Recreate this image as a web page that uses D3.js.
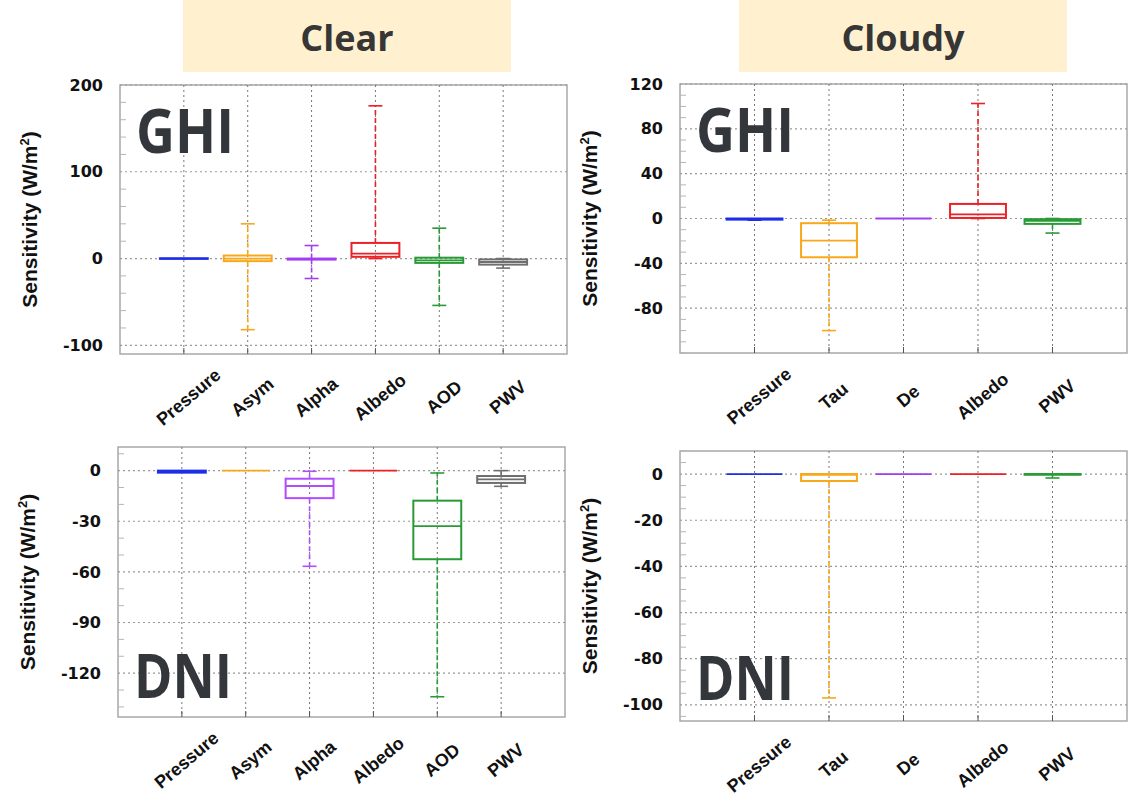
<!DOCTYPE html>
<html>
<head>
<meta charset="utf-8">
<script src="https://cdn.jsdelivr.net/npm/d3@7"></script>
<style>
  body { margin: 0; background: #fff; }
  svg { display: block; }
</style>
</head>
<body>
<svg id="chart" width="1134" height="796"></svg>
<script>
// categories
const clearVars = ['Pressure', 'Asym', 'Alpha', 'Albedo', 'AOD', 'PWV']
const cloudyVars = ['Pressure', 'Tau', 'De', 'Albedo', 'PWV']

// clear sky, GHI
const clearGhiLow = [0, -82, -23, 0, -54, -11]
const clearGhiQ1 = [-0.3, -3, -1.2, 2, -5, -7]
const clearGhiMed = [0, 0, -0.5, 5.7, -2, -4]
const clearGhiQ3 = [0.3, 3.5, 0, 18, 1, -1]
const clearGhiHigh = [0.3, 40, 15, 176, 35, 0]

// cloudy sky, GHI
const cloudyGhiLow = [-1.5, -100, 0, 0, -13]
const cloudyGhiQ1 = [-1, -34.6, 0, 0.5, -4.8]
const cloudyGhiMed = [-0.5, -19.7, 0, 3.6, -2]
const cloudyGhiQ3 = [0, -4.2, 0, 13, -0.6]
const cloudyGhiHigh = [0, -1.5, 0, 102.6, 0]

// clear sky, DNI
const clearDniLow = [-1, 0, -56.7, 0, -134, -9.3]
const clearDniQ1 = [-1.2, 0, -16.3, 0, -52.5, -7.3]
const clearDniMed = [-0.5, 0, -9.1, 0, -32.9, -5.2]
const clearDniQ3 = [0, 0, -4.8, 0, -17.8, -3.2]
const clearDniHigh = [0, 0, -0.4, 0, -1.4, 0]

// cloudy sky, DNI
const cloudyDniLow = [0, -97, 0, 0, -1.7]
const cloudyDniQ1 = [0, -3, 0, 0, -0.3]
const cloudyDniMed = [0, -0.3, 0, 0, 0]
const cloudyDniQ3 = [0, 0, 0, 0, 0]
const cloudyDniHigh = [0, 0, 0, 0, 0]

// y tick labels
const clearGhiTicks = [-100, 0, 100, 200]
const cloudyGhiTicks = [-80, -40, 0, 40, 80, 120]
const clearDniTicks = [-120, -90, -60, -30, 0]
const cloudyDniTicks = [-100, -80, -60, -40, -20, 0]

const headers = ['Clear', 'Cloudy']
const yLabel = 'Sensitivity (W/m'

// styles
const clearColors = ['#1f2ee6', '#f7a81b', '#a23df2', '#ec2027', '#2a9a37', '#6f6f6f']
const cloudyColors = ['#1f2ee6', '#f7a81b', '#a23df2', '#ec2027', '#2a9a37']
const dniClearColors = ['#1f2ee6', '#f7a81b', '#b24cff', '#ec2027', '#2a9a37', '#6f6f6f']

const svg = d3.select('#chart')

// header boxes
const headerPos = [{ x: 183, w: 328 }, { x: 739, w: 328 }]
headers.forEach((h, i) => {
  svg.append('rect')
    .attr('x', headerPos[i].x).attr('y', 0)
    .attr('width', headerPos[i].w).attr('height', 72)
    .attr('fill', '#fff1d0')
  svg.append('text')
    .attr('x', headerPos[i].x + headerPos[i].w / 2).attr('y', 51)
    .attr('text-anchor', 'middle')
    .attr('font-family', '"Open Sans", sans-serif')
    .attr('font-weight', 700).attr('font-size', 36)
    .attr('fill', '#363636')
    .text(h)
})

function drawPanel(opt) {
  const { left, right, top, bottom, vars, low, q1, med, q3, high, ticks, domain, minor, colors, tag, tagY } = opt
  const g = svg.append('g')
  const width = right - left

  const x = d3.scaleLinear().domain([0, vars.length + 1]).range([left, right])
  const y = d3.scaleLinear().domain(domain).range([bottom, top])
  const step = x(1) - x(0)

  // frame
  g.append('rect')
    .attr('x', left).attr('y', top)
    .attr('width', width).attr('height', bottom - top)
    .attr('fill', 'none').attr('stroke', '#a8a8a8').attr('stroke-width', 1.5)

  // minor ticks on the left side
  const minorVals = d3.range(Math.ceil(domain[0] / minor) * minor, domain[1] + 0.001, minor)
    .filter(v => !ticks.includes(v))
  g.selectAll('.minor')
    .data(minorVals)
    .enter().append('line')
      .attr('x1', left).attr('x2', left + 6)
      .attr('y1', d => y(d)).attr('y2', d => y(d))
      .attr('stroke', '#b5b5b5').attr('stroke-width', 1)

  // horizontal grid
  g.selectAll('.hgrid')
    .data(ticks)
    .enter().append('line')
      .attr('x1', left).attr('x2', right)
      .attr('y1', d => y(d)).attr('y2', d => y(d))
      .attr('stroke', '#999').attr('stroke-width', 1.2)
      .attr('stroke-dasharray', '2,3')

  // vertical grid
  g.selectAll('.vgrid')
    .data(vars)
    .enter().append('line')
      .attr('x1', (d, i) => x(i + 1)).attr('x2', (d, i) => x(i + 1))
      .attr('y1', top).attr('y2', bottom)
      .attr('stroke', '#777').attr('stroke-width', 1)
      .attr('stroke-dasharray', '2,3')
  g.selectAll('.btick')
    .data(vars)
    .enter().append('line')
      .attr('x1', (d, i) => x(i + 1)).attr('x2', (d, i) => x(i + 1))
      .attr('y1', bottom - 6).attr('y2', bottom)
      .attr('stroke', '#555').attr('stroke-width', 1)

  // y axis labels
  const yAxis = g.append('g')
    .attr('transform', `translate(${left},0)`)
    .call(d3.axisLeft(y).tickValues(ticks).tickFormat(d => String(d)).tickSize(0).tickPadding(17))
  yAxis.select('.domain').remove()
  yAxis.selectAll('text')
    .attr('font-family', '"DejaVu Sans", sans-serif')
    .attr('font-weight', 700).attr('font-size', 16)
    .attr('fill', '#111')

  // x axis labels
  const xAxis = g.append('g')
    .attr('transform', `translate(0,${bottom})`)
    .call(d3.axisBottom(x).tickValues(d3.range(1, vars.length + 1))
      .tickFormat(i => vars[i - 1]).tickSize(0))
  xAxis.select('.domain').remove()
  xAxis.selectAll('text')
    .attr('y', 0).attr('dy', '0.35em')
    .attr('text-anchor', 'middle')
    .attr('transform', 'translate(4,43) rotate(-40)')
    .attr('font-family', '"Liberation Sans", Arial, sans-serif')
    .attr('font-weight', 700).attr('font-size', 18)
    .attr('fill', '#111')

  // y title
  const cy = (top + bottom) / 2
  const title = g.append('text')
    .attr('transform', `translate(${left - 83},${cy}) rotate(-90)`)
    .attr('text-anchor', 'middle')
    .attr('font-family', '"Liberation Sans", Arial, sans-serif')
    .attr('font-weight', 700).attr('font-size', 21)
    .attr('fill', '#111')
  title.append('tspan').text(yLabel)
  title.append('tspan').attr('font-size', 13).attr('dy', -8).text('2')
  title.append('tspan').attr('dy', 8).text(')')

  // tag (GHI / DNI)
  g.append('text')
    .attr('x', left + 16).attr('y', tagY)
    .attr('font-family', '"Open Sans", sans-serif')
    .attr('font-weight', 700).attr('font-size', 60)
    .attr('textLength', 98).attr('lengthAdjust', 'spacingAndGlyphs')
    .attr('fill', '#33373b')
    .text(tag)

  // boxes
  const half = step * 0.375
  const capHalf = 7
  vars.forEach((v, i) => {
    const cx = x(i + 1)
    const c = colors[i]
    const bg = g.append('g')
    if (high[i] > q3[i]) {
      bg.append('line').attr('x1', cx).attr('x2', cx)
        .attr('y1', y(q3[i])).attr('y2', y(high[i]))
        .attr('stroke', c).attr('stroke-width', 1.6).attr('stroke-dasharray', '5,3')
      bg.append('line').attr('x1', cx - capHalf).attr('x2', cx + capHalf)
        .attr('y1', y(high[i])).attr('y2', y(high[i]))
        .attr('stroke', c).attr('stroke-width', 1.6)
    }
    if (low[i] < q1[i]) {
      bg.append('line').attr('x1', cx).attr('x2', cx)
        .attr('y1', y(q1[i])).attr('y2', y(low[i]))
        .attr('stroke', c).attr('stroke-width', 1.6).attr('stroke-dasharray', '5,3')
      bg.append('line').attr('x1', cx - capHalf).attr('x2', cx + capHalf)
        .attr('y1', y(low[i])).attr('y2', y(low[i]))
        .attr('stroke', c).attr('stroke-width', 1.6)
    }
    bg.append('rect')
      .attr('x', cx - half).attr('y', y(q3[i]))
      .attr('width', half * 2).attr('height', Math.max(0, y(q1[i]) - y(q3[i])))
      .attr('fill', 'none').attr('stroke', c).attr('stroke-width', 2)
    bg.append('line').attr('x1', cx - half).attr('x2', cx + half)
      .attr('y1', y(med[i])).attr('y2', y(med[i]))
      .attr('stroke', c).attr('stroke-width', 1.8)
  })
}

drawPanel({
  left: 120, right: 567, top: 85, bottom: 354,
  vars: clearVars, low: clearGhiLow, q1: clearGhiQ1, med: clearGhiMed, q3: clearGhiQ3, high: clearGhiHigh,
  ticks: clearGhiTicks, domain: [-110, 200], minor: 20, colors: clearColors, tag: 'GHI', tagY: 153,
})
drawPanel({
  left: 680, right: 1127, top: 84, bottom: 353,
  vars: cloudyVars, low: cloudyGhiLow, q1: cloudyGhiQ1, med: cloudyGhiMed, q3: cloudyGhiQ3, high: cloudyGhiHigh,
  ticks: cloudyGhiTicks, domain: [-120, 120], minor: 10, colors: cloudyColors, tag: 'GHI', tagY: 152,
})
drawPanel({
  left: 118, right: 565, top: 447, bottom: 717,
  vars: clearVars, low: clearDniLow, q1: clearDniQ1, med: clearDniMed, q3: clearDniQ3, high: clearDniHigh,
  ticks: clearDniTicks, domain: [-146, 14], minor: 10, colors: dniClearColors, tag: 'DNI', tagY: 698,
})
drawPanel({
  left: 680, right: 1127, top: 451, bottom: 721,
  vars: cloudyVars, low: cloudyDniLow, q1: cloudyDniQ1, med: cloudyDniMed, q3: cloudyDniQ3, high: cloudyDniHigh,
  ticks: cloudyDniTicks, domain: [-107, 10], minor: 5, colors: cloudyColors, tag: 'DNI', tagY: 700,
})
</script>
</body>
</html>
